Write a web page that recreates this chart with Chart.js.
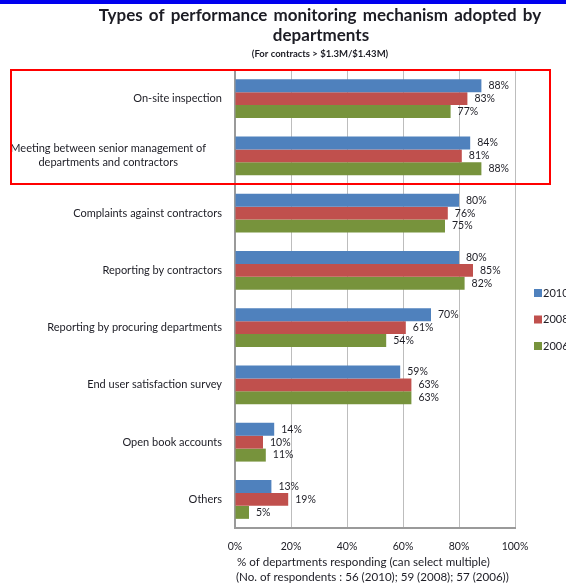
<!DOCTYPE html>
<html>
<head>
<meta charset="utf-8">
<script src="https://cdn.jsdelivr.net/npm/chart.js@4.4.1/dist/chart.umd.min.js"></script>
<style>
  html, body { margin: 0; padding: 0; background: #fff; overflow: hidden; }
  #wrap { width: 566px; height: 584px; position: relative; }
</style>
</head>
<body>
<div id="wrap"><canvas id="monitoring-chart"></canvas></div>
<script>
// mechanisms, one entry per line of the wrapped label
const categories = [
    ['On-site inspection'],
    ['Meeting between senior management of', 'departments and contractors'],
    ['Complaints against contractors'],
    ['Reporting by contractors'],
    ['Reporting by procuring departments'],
    ['End user satisfaction survey'],
    ['Open book accounts'],
    ['Others']
];

const years = ['2010', '2008', '2006'];
const values2010 = [88, 84, 80, 80, 70, 59, 14, 13];
const values2008 = [83, 81, 76, 85, 61, 63, 10, 19];
const values2006 = [77, 88, 75, 82, 54, 63, 11, 5];

const titleLines = ['Types of performance monitoring mechanism adopted by', 'departments'];
const subtitle = '(For contracts > $1.3M/$1.43M)';
const axisNotes = [
    '% of departments responding (can select multiple)',
    '(No. of respondents : 56 (2010); 59 (2008); 57 (2006))'
];

const colors = ['#4F81BD', '#C0504D', '#77933C'];
const textColor = '#1c1c24';
const fontFamily = 'Lato, "Open Sans", sans-serif';

// everything that isn't a bar or a gridline gets drawn here
const textPlugin = {
    id: 'textPlugin',
    beforeDraw(chart) {
        const ctx = chart.ctx;
        ctx.save();
        ctx.fillStyle = '#fff';
        ctx.fillRect(0, 0, chart.width, chart.height);
        // blue strip along the top
        ctx.fillStyle = '#0000ee';
        ctx.fillRect(0, 0, chart.width, 4);
        ctx.restore();
    },
    afterDraw(chart) {
        const ctx = chart.ctx;
        const yScale = chart.scales.y;
        const area = chart.chartArea;
        ctx.save();
        ctx.fillStyle = textColor;

        // title
        ctx.textAlign = 'center';
        ctx.textBaseline = 'alphabetic';
        ctx.font = 'bold 17px ' + fontFamily;
        ctx.wordSpacing = '2px';
        ctx.fillText(titleLines[0], 320, 21);
        ctx.fillText(titleLines[1], 321, 41);
        ctx.wordSpacing = '0px';
        ctx.font = 'bold 9.5px ' + fontFamily;
        ctx.fillText(subtitle, 320, 57);

        // category labels
        ctx.font = '11px ' + fontFamily;
        ctx.textBaseline = 'middle';
        categories.forEach((lines, i) => {
            const yc = yScale.getPixelForValue(i);
            if (lines.length === 1) {
                ctx.textAlign = 'right';
                ctx.fillText(lines[0], 222, yc);
            } else {
                const w = Math.max(...lines.map(l => ctx.measureText(l).width));
                const cx = 206 - w / 2;
                ctx.textAlign = 'center';
                lines.forEach((l, k) => {
                    ctx.fillText(l, cx, yc + (k - (lines.length - 1) / 2) * 14);
                });
            }
        });

        // value labels at the end of each bar
        ctx.font = '10.5px ' + fontFamily;
        ctx.textAlign = 'left';
        chart.data.datasets.forEach((ds, i) => {
            const meta = chart.getDatasetMeta(i);
            meta.data.forEach((bar, j) => {
                ctx.fillText(ds.data[j] + '%', bar.x + 7, bar.y);
            });
        });

        // legend
        ctx.font = '11px ' + fontFamily;
        chart.data.datasets.forEach((ds, i) => {
            const y = 293 + i * 26.5;
            ctx.fillStyle = ds.backgroundColor;
            ctx.fillRect(534, y - 4, 8, 8);
            ctx.fillStyle = textColor;
            ctx.fillText(ds.label, 543, y);
        });

        // axis notes under the tick labels
        ctx.font = '11.6px ' + fontFamily;
        ctx.textAlign = 'left';
        ctx.fillText(axisNotes[0], area.left + 2, 562);
        ctx.fillText(axisNotes[1], area.left + 1, 577);

        // red highlight box round the first two mechanisms
        ctx.strokeStyle = '#ff0000';
        ctx.lineWidth = 2;
        ctx.strokeRect(11, 70, 539, 114);
        ctx.restore();
    }
};

const ctx = document.getElementById('monitoring-chart').getContext('2d');
new Chart(ctx, {
    type: 'bar',
    data: {
        labels: categories,
        datasets: [
            { label: years[0], data: values2010, backgroundColor: colors[0] },
            { label: years[1], data: values2008, backgroundColor: colors[1] },
            { label: years[2], data: values2006, backgroundColor: colors[2] }
        ]
    },
    options: {
        indexAxis: 'y',
        responsive: true,
        maintainAspectRatio: false,
        animation: false,
        devicePixelRatio: 1,
        categoryPercentage: 0.68,
        barPercentage: 1.0,
        layout: {
            padding: { left: 0, right: 51, top: 70, bottom: 0 }
        },
        plugins: {
            legend: { display: false },
            tooltip: { enabled: false }
        },
        scales: {
            x: {
                min: 0,
                max: 100,
                ticks: {
                    stepSize: 20,
                    padding: 12,
                    color: textColor,
                    font: { family: fontFamily, size: 10.5 },
                    callback: v => v + '%'
                },
                grid: { color: '#bdbdbd', lineWidth: 1, drawTicks: false },
                border: { display: true, color: '#9a9a9a', width: 2 },
                afterFit: scale => { scale.height = 56; }
            },
            y: {
                ticks: { display: false },
                grid: { display: false, drawTicks: false },
                border: { display: true, color: '#9a9a9a', width: 2 },
                afterFit: scale => { scale.width = 235; }
            }
        }
    },
    plugins: [textPlugin]
});
</script>
</body>
</html>
